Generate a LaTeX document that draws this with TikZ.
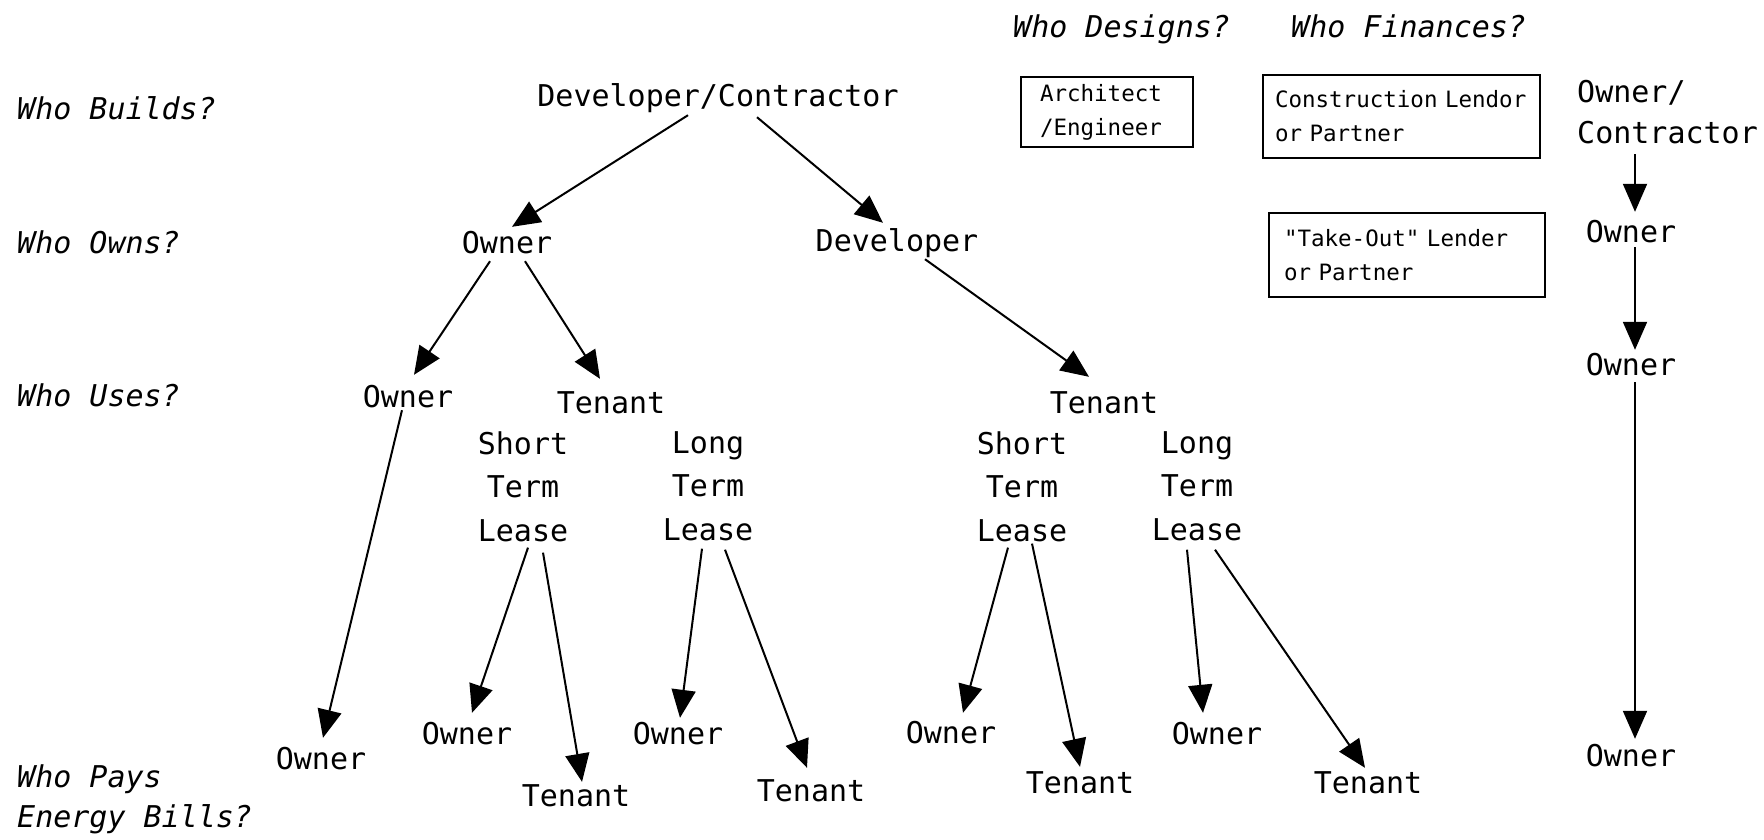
\documentclass[tikz,border=0pt]{standalone}
\usepackage{fontspec}
\newfontfamily\plainfont{DejaVu Sans Mono}
\newfontfamily\askfont{DejaVu Sans Mono Oblique}
\usetikzlibrary{arrows.meta}

\begin{document}
\begin{tikzpicture}[x=1pt,y=-1pt,
  lbl/.style={font=\plainfont\fontsize{30}{36}\selectfont, inner sep=0pt, text height=22pt, text depth=0pt},
  stack/.style={font=\plainfont\fontsize{30}{43.5}\selectfont, inner sep=0pt, align=center, anchor=north},
  question/.style={font=\askfont\fontsize{30}{40}\selectfont, inner sep=0pt, anchor=north west, align=left},
  finbox/.style={draw, line width=2.5pt, font=\plainfont\fontsize{22.5}{34}\selectfont, align=left, inner ysep=0pt},
  flow/.style={line width=2pt, -{Triangle[length=28pt,width=24pt]}}
]
\useasboundingbox[fill=white] (0,0) rectangle (1764,839);

% row questions
\node[question] (qbuild) at (17,96)  {Who Builds?};
\node[question] (qown)   at (17,231) {Who Owns?};
\node[question] (quse)   at (17,383) {Who Uses?};
\node[question] (qpay)   at (17,764) {Who Pays\\Energy Bills?};
\node[question] (qdes)   at (1013,15) {Who Designs?};
\node[question] (qfin)   at (1291,15) {Who Finances?};

% design and finance boxes
\node[finbox, minimum width=172pt, minimum height=70pt, text width=134pt, inner xsep=19pt]
  (arch) at (1107,112) {Architect\\/Engineer};
\node[finbox, minimum width=277pt, minimum height=83pt, text width=253pt, inner xsep=12pt]
  (clend) at (1401.5,116.5) {Construction Lendor\\or Partner};
\node[finbox, minimum width=276pt, minimum height=84pt, text width=246pt, inner xsep=15pt]
  (tolend) at (1407,255) {"Take-Out" Lender\\or Partner};

% main tree
\node[lbl] (dc)    at (718,95)  {Developer/Contractor};
\node[lbl] (own1)  at (507,242) {Owner};
\node[lbl] (dev)   at (897,240) {Developer};
\node[lbl] (useo)  at (408,396) {Owner};
\node[lbl] (uset)  at (611,402) {Tenant};
\node[lbl] (usett) at (1104,402) {Tenant};

\node[stack] (stla) at (523,431)  {Short\\Term\\Lease};
\node[stack] (ltla) at (708,431)  {Long\\Term\\Lease};
\node[stack] (stlb) at (1022,431) {Short\\Term\\Lease};
\node[stack] (ltlb) at (1197,431) {Long\\Term\\Lease};

\node[lbl] (pa) at (321,758)  {Owner};
\node[lbl] (pb) at (467,733)  {Owner};
\node[lbl] (pc) at (576,795)  {Tenant};
\node[lbl] (pd) at (678,733)  {Owner};
\node[lbl] (pe) at (811,790)  {Tenant};
\node[lbl] (pf) at (951,732)  {Owner};
\node[lbl] (pg) at (1080,782) {Tenant};
\node[lbl] (ph) at (1217,733) {Owner};
\node[lbl] (pi) at (1368,782) {Tenant};

% owner-built column
\node[font=\plainfont\fontsize{30}{41}\selectfont, inner sep=0pt, align=left, anchor=north west]
  (oc) at (1577,80) {Owner/\\Contractor};
\node[lbl] (ra) at (1631,231) {Owner};
\node[lbl] (rb) at (1631,364) {Owner};
\node[lbl] (rc) at (1631,755) {Owner};

% connectors
\draw[flow] ([xshift=-30pt,yshift=-9pt]dc.south)  -- ([xshift=5pt,yshift=4pt]own1.north);
\draw[flow] ([xshift=39pt,yshift=-11pt]dc.south)  -- ([xshift=-14pt,yshift=6pt]dev.north);
\draw[flow] ([xshift=-17pt,yshift=-8pt]own1.south) -- ([xshift=6pt,yshift=10pt]useo.north);
\draw[flow] ([xshift=18pt,yshift=-8pt]own1.south)  -- ([xshift=-11pt,yshift=12pt]uset.north);
\draw[flow] ([xshift=28pt,yshift=-8pt]dev.south)   -- ([xshift=-15pt,yshift=14pt]usett.north);
\draw[flow] ([xshift=-6pt,yshift=-3pt]useo.south)  -- ([xshift=2pt,yshift=9pt]pa.north);

\draw[flow] ([xshift=5pt,yshift=-6pt]stla.south)   -- ([xshift=5pt,yshift=9pt]pb.north);
\draw[flow] ([xshift=20pt,yshift=-11pt]stla.south) -- ([xshift=6pt,yshift=2pt]pc.north);
\draw[flow] ([xshift=-6pt,yshift=-8pt]ltla.south)  -- ([xshift=2pt,yshift=4pt]pd.north);
\draw[flow] ([xshift=17pt,yshift=-9pt]ltla.south)  -- ([xshift=-4pt,yshift=11pt]pe.north);
\draw[flow] ([xshift=-14pt,yshift=-6pt]stlb.south) -- ([xshift=12pt,yshift=8pt]pf.north);
\draw[flow] ([xshift=10pt,yshift=-2pt]stlb.south)  -- ([xshift=0pt,yshift=4pt]pg.north);
\draw[flow] ([xshift=-10pt,yshift=-9pt]ltlb.south) -- ([xshift=-14pt,yshift=9pt]ph.north);
\draw[flow] ([xshift=18pt,yshift=-9pt]ltlb.south)  -- ([xshift=-3pt,yshift=3pt]pi.north);

\draw[flow] ([xshift=58pt,yshift=-10pt]oc.south west) -- ([xshift=4pt,yshift=8pt]ra.north);
\draw[flow] ([xshift=4pt,yshift=-5pt]ra.south) -- ([xshift=4pt,yshift=3pt]rb.north);
\draw[flow] ([xshift=4pt,yshift=-7pt]rb.south) -- ([xshift=4pt,yshift=5pt]rc.north);
\end{tikzpicture}
\end{document}
